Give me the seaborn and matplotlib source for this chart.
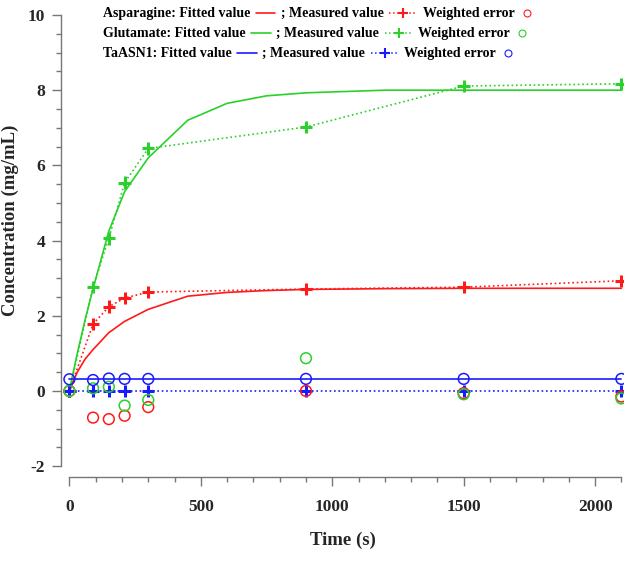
import numpy as np
import pandas as pd
import matplotlib
matplotlib.use('Agg')
import matplotlib.pyplot as plt
import seaborn as sns
from matplotlib.lines import Line2D
from matplotlib.ticker import MultipleLocator
from matplotlib.offsetbox import TextArea, DrawingArea, HPacker, VPacker, AnchoredOffsetbox

sns.set_style("ticks")
plt.rcParams['font.family'] = ['Liberation Serif', 'DejaVu Serif']
plt.rcParams['font.weight'] = 'bold'
plt.rcParams['axes.unicode_minus'] = False

# ---- data ----
t_meas = [0, 90, 150, 210, 300, 900, 1500, 2100]
asn_meas = [0, 1.78, 2.24, 2.47, 2.63, 2.71, 2.76, 2.93]
glu_meas = [0, 2.77, 4.06, 5.54, 6.45, 7.02, 8.11, 8.17]
ta_meas = [0, 0, 0, 0, 0, 0, 0, 0]

asn_err = [0, -0.71, -0.75, -0.66, -0.43, 0.0, -0.06, -0.15]
glu_err = [0, 0.07, 0.11, -0.39, -0.24, 0.87, -0.09, -0.20]
ta_err = [0.31, 0.29, 0.33, 0.32, 0.32, 0.32, 0.32, 0.32]

t_fit = [0, 30, 60, 90, 150, 210, 300, 450, 600, 750, 900, 1200, 1500, 2100]
asn_fit = [0, 0.50, 0.85, 1.10, 1.55, 1.85, 2.17, 2.52, 2.62, 2.67, 2.70, 2.72, 2.73, 2.73]
glu_fit = [0, 1.00, 1.90, 2.72, 4.25, 5.30, 6.20, 7.20, 7.65, 7.85, 7.93, 8.00, 8.00, 8.00]
ta_fit = [0.31] * len(t_fit)

names = ['Asparagine', 'Glutamate', 'TaASN1']
colors = ['#ff1a1a', '#2ad12a', '#1a1aff']

fit_df = pd.DataFrame({'t': t_fit * 3,
                       'y': asn_fit + glu_fit + ta_fit,
                       'name': np.repeat(names, len(t_fit))})
meas_df = pd.DataFrame({'t': t_meas * 3,
                        'y': asn_meas + glu_meas + ta_meas,
                        'err': asn_err + glu_err + ta_err,
                        'name': np.repeat(names, len(t_meas))})
pal = dict(zip(names, colors))

fig = plt.figure(figsize=(6.34, 5.61), dpi=100)
ax = fig.add_axes([61 / 634, 1 - 477 / 561, (624 - 61) / 634, (477 - 15) / 561])

# fitted curves
sns.lineplot(data=fit_df, x='t', y='y', hue='name', palette=pal, lw=1.2,
             legend=False, ax=ax, sort=False)
# measured values: dotted line + bold crosses
sns.lineplot(data=meas_df, x='t', y='y', hue='name', palette=pal, lw=1.2,
             linestyle=':', legend=False, ax=ax, sort=False)
sns.scatterplot(data=meas_df, x='t', y='y', hue='name', palette=pal,
                marker='+', s=80, linewidth=2.2, legend=False, ax=ax, zorder=4)
# weighted errors: open circles
for n in names:
    sub = meas_df[meas_df['name'] == n]
    sns.scatterplot(x=sub['t'], y=sub['err'], ax=ax, marker='o', s=60,
                    facecolor='none', edgecolor=pal[n], linewidth=1.1,
                    legend=False, zorder=5)

ax.set_xlim(-32, 2110)
ax.set_ylim(-2.29, 10)
ax.xaxis.set_major_locator(MultipleLocator(500))
ax.xaxis.set_minor_locator(MultipleLocator(100))
ax.yaxis.set_major_locator(MultipleLocator(2))
ax.yaxis.set_minor_locator(MultipleLocator(0.5))
sns.despine(ax=ax)
ax.spines['left'].set_bounds(-2, 10)
ax.spines['bottom'].set_bounds(0, 2100)
for s in ['left', 'bottom']:
    ax.spines[s].set_color('#777777')
    ax.spines[s].set_linewidth(1.0)
ax.tick_params(which='major', length=6.5, width=1, color='#777777',
               labelsize=12.5, pad=5)
ax.tick_params(which='minor', length=3.3, width=1, color='#777777')
ax.tick_params(axis='x', which='major', pad=9)
for lab in ax.get_xticklabels() + ax.get_yticklabels():
    lab.set_fontweight('bold')
ax.set_xlabel('Time (s)', fontsize=13.5, fontweight='bold', labelpad=12)
ax.set_ylabel('Concentration (mg/mL)', fontsize=13.5, fontweight='bold')
ax.yaxis.set_label_coords(-0.074, 0.555)

# ---- text legend at the top ----
tp = dict(fontsize=10, fontweight='bold', color='black', family='Liberation Serif')
rows = []
for n, c in zip(names, colors):
    d1 = DrawingArea(16, 8, 0, 0)
    d1.add_artist(Line2D([1, 15], [4, 4], color=c, lw=1.2))
    d2 = DrawingArea(22, 8, 0, 0)
    d2.add_artist(Line2D([1, 21], [4, 4], color=c, lw=1.1, ls=':'))
    d2.add_artist(Line2D([11], [4], color=c, marker='+', ms=7, mew=1.5))
    d3 = DrawingArea(12, 8, 0, 0)
    d3.add_artist(Line2D([6], [4], color=c, marker='o', ms=5, mfc='none', mew=0.8))
    rows.append(HPacker(children=[TextArea(n + ': Fitted value', textprops=tp), d1,
                                  TextArea('; Measured value', textprops=tp), d2,
                                  TextArea('Weighted error', textprops=tp), d3],
                        align='center', pad=0, sep=3))
box = VPacker(children=rows, align='left', pad=0, sep=5)
fig.add_artist(AnchoredOffsetbox(loc='upper left', child=box, frameon=False,
                                 bbox_to_anchor=(103 / 634, 1 - 7 / 561),
                                 bbox_transform=fig.transFigure, pad=0, borderpad=0))

fig.savefig('out.png', dpi=100)
